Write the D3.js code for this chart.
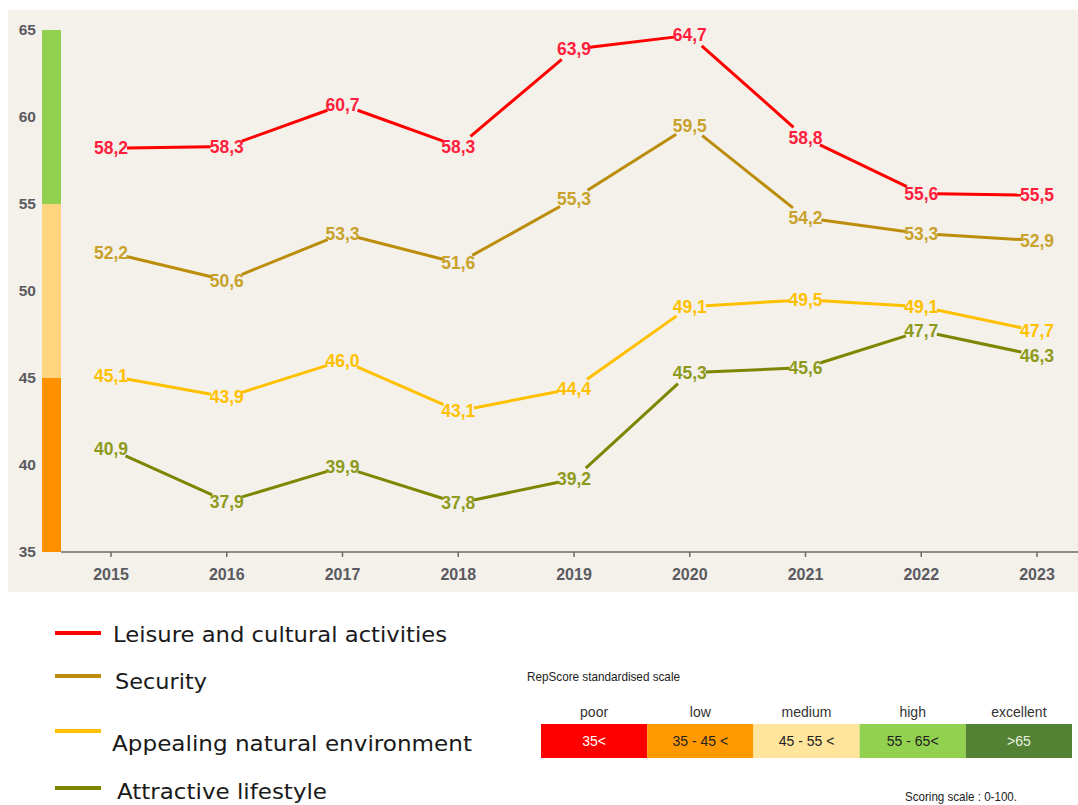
<!DOCTYPE html>
<html>
<head>
<meta charset="utf-8">
<script src="https://cdn.jsdelivr.net/npm/d3@7"></script>
<style>
  body { margin: 0; background: #ffffff; }
  svg { display: block; }
</style>
</head>
<body>
<svg id="chart"></svg>
<script>
// data
var years = ["2015", "2016", "2017", "2018", "2019", "2020", "2021", "2022", "2023"];
var seriesNames = ["Leisure and cultural activities", "Security", "Appealing natural environment", "Attractive lifestyle"];
var leisure = [58.2, 58.3, 60.7, 58.3, 63.9, 64.7, 58.8, 55.6, 55.5];
var security = [52.2, 50.6, 53.3, 51.6, 55.3, 59.5, 54.2, 53.3, 52.9];
var appealing = [45.1, 43.9, 46.0, 43.1, 44.4, 49.1, 49.5, 49.1, 47.7];
var lifestyle = [40.9, 37.9, 39.9, 37.8, 39.2, 45.3, 45.6, 47.7, 46.3];
var yTicks = [35, 40, 45, 50, 55, 60, 65];
var bands = [[35, 45], [45, 55], [55, 65]];
var scaleNames = ["poor", "low", "medium", "high", "excellent"];
var scaleRanges = ["35<", "35 - 45 <", "45 - 55 <", "55 - 65<", ">65"];

var lineColors = ["#ff0000", "#bb8d0b", "#ffc000", "#7c8600"];
var labelColors = ["#ff1f3d", "#c9a22c", "#ffc000", "#8e9a1c"];
var bandColors = ["#ff9000", "#ffd47f", "#92d050"];
var scaleColors = ["#ff0000", "#ff9900", "#ffe49c", "#92d050", "#548235"];
var scaleText = ["#ffffff", "#222222", "#222222", "#222222", "#e8f0e0"];

var width = 1078, height = 805;
var svg = d3.select("#chart").attr("width", width).attr("height", height);

// panel
svg.append("rect")
    .attr("x", 8).attr("y", 10)
    .attr("width", width - 8).attr("height", 582)
    .attr("fill", "#f4f1eb");

var x = d3.scalePoint().domain(years).range([111, 1037]);
var y = d3.scaleLinear().domain([35, 65]).range([552, 30]);

// y axis labels
svg.append("g").selectAll("text")
    .data(yTicks)
    .enter().append("text")
    .attr("x", 36)
    .attr("y", function (d) { return y(d); })
    .attr("dy", "0.35em")
    .attr("text-anchor", "end")
    .attr("font-family", "Liberation Sans, Arial, sans-serif")
    .attr("font-weight", "bold")
    .attr("font-size", 15.5)
    .attr("fill", "#5a5a60")
    .text(function (d) { return d; });

// coloured band on the left
svg.append("g").selectAll("rect")
    .data(bands)
    .enter().append("rect")
    .attr("x", 42)
    .attr("width", 19)
    .attr("y", function (d) { return y(d[1]); })
    .attr("height", function (d) { return y(d[0]) - y(d[1]); })
    .attr("fill", function (d, i) { return bandColors[i]; });

// x axis
var xAxis = svg.append("g")
    .attr("transform", "translate(0," + y(35) + ")");
xAxis.append("line")
    .attr("x1", 61).attr("x2", width)
    .attr("stroke", "#6b6b6b").attr("stroke-width", 1.5);
xAxis.selectAll(".tick")
    .data(years)
    .enter().append("line")
    .attr("x1", function (d) { return x(d); })
    .attr("x2", function (d) { return x(d); })
    .attr("y1", 0).attr("y2", 5)
    .attr("stroke", "#6b6b6b").attr("stroke-width", 1.5);
xAxis.selectAll("text")
    .data(years)
    .enter().append("text")
    .attr("x", function (d) { return x(d); })
    .attr("y", 22)
    .attr("dy", "0.35em")
    .attr("text-anchor", "middle")
    .attr("font-family", "Liberation Sans, Arial, sans-serif")
    .attr("font-weight", "bold")
    .attr("font-size", 16)
    .attr("fill", "#5a5a60")
    .text(function (d) { return d; });

// series: segments trimmed around the value labels
var allSeries = [leisure, security, appealing, lifestyle];
var trim = 16;
var fmt = function (v) { return v.toFixed(1).replace(".", ","); };

allSeries.forEach(function (vals, s) {
    var pts = vals.map(function (v, i) { return [x(years[i]), y(v)]; });
    var segs = d3.pairs(pts).map(function (p) {
        var dx = p[1][0] - p[0][0], dy = p[1][1] - p[0][1];
        var len = Math.sqrt(dx * dx + dy * dy);
        var ux = dx / len, uy = dy / len;
        return [p[0][0] + ux * trim, p[0][1] + uy * trim, p[1][0] - ux * trim, p[1][1] - uy * trim];
    });
    var g = svg.append("g");
    g.selectAll("line")
        .data(segs)
        .enter().append("line")
        .attr("x1", function (d) { return d[0]; })
        .attr("y1", function (d) { return d[1]; })
        .attr("x2", function (d) { return d[2]; })
        .attr("y2", function (d) { return d[3]; })
        .attr("stroke", lineColors[s])
        .attr("stroke-width", 3);
    g.selectAll("text")
        .data(vals)
        .enter().append("text")
        .attr("x", function (d, i) { return x(years[i]); })
        .attr("y", function (d) { return y(d); })
        .attr("dy", "0.35em")
        .attr("text-anchor", "middle")
        .attr("font-family", "Liberation Sans, Arial, sans-serif")
        .attr("font-weight", "bold")
        .attr("font-size", 17.5)
        .attr("fill", labelColors[s])
        .text(fmt);
});

// legend
var legendY = [633, 676, 731, 788];
var legendTextY = [635, 682, 744, 792];
var legendTextX = [113, 115, 112, 117];
var legendTextW = [334, 92, 360, 210];
var legend = svg.append("g");
legend.selectAll("line")
    .data(seriesNames)
    .enter().append("line")
    .attr("x1", 55).attr("x2", 101)
    .attr("y1", function (d, i) { return legendY[i]; })
    .attr("y2", function (d, i) { return legendY[i]; })
    .attr("stroke", function (d, i) { return lineColors[i]; })
    .attr("stroke-width", 4);
legend.selectAll("text")
    .data(seriesNames)
    .enter().append("text")
    .attr("x", function (d, i) { return legendTextX[i]; })
    .attr("y", function (d, i) { return legendTextY[i]; })
    .attr("dy", "0.35em")
    .attr("font-family", "DejaVu Sans, Verdana, sans-serif")
    .attr("font-size", 21)
    .attr("textLength", function (d, i) { return legendTextW[i]; })
    .attr("lengthAdjust", "spacingAndGlyphs")
    .attr("fill", "#1a1a1a")
    .text(function (d) { return d; });

// RepScore scale
var narrow = "Liberation Sans Narrow, Liberation Sans, Arial, sans-serif";
svg.append("text")
    .attr("x", 527).attr("y", 676)
    .attr("dy", "0.35em")
    .attr("font-family", narrow)
    .attr("font-size", 13)
    .attr("textLength", 153)
    .attr("lengthAdjust", "spacingAndGlyphs")
    .attr("fill", "#222")
    .text("RepScore standardised scale");

var sx = d3.scaleBand().domain(scaleNames).range([541, 1072]);
var scale = svg.append("g");
scale.selectAll("rect")
    .data(scaleNames)
    .enter().append("rect")
    .attr("x", function (d) { return sx(d); })
    .attr("y", 724)
    .attr("width", sx.bandwidth())
    .attr("height", 34)
    .attr("fill", function (d, i) { return scaleColors[i]; });
scale.selectAll(".name")
    .data(scaleNames)
    .enter().append("text")
    .attr("x", function (d) { return sx(d) + sx.bandwidth() / 2; })
    .attr("y", 712)
    .attr("dy", "0.35em")
    .attr("text-anchor", "middle")
    .attr("font-family", narrow)
    .attr("font-size", 14)
    .attr("fill", "#333")
    .text(function (d) { return d; });
scale.selectAll(".range")
    .data(scaleRanges)
    .enter().append("text")
    .attr("x", function (d, i) { return sx(scaleNames[i]) + sx.bandwidth() / 2; })
    .attr("y", 741)
    .attr("dy", "0.35em")
    .attr("text-anchor", "middle")
    .attr("font-family", narrow)
    .attr("font-size", 14)
    .attr("fill", function (d, i) { return scaleText[i]; })
    .text(function (d) { return d; });

svg.append("text")
    .attr("x", 905).attr("y", 796)
    .attr("dy", "0.35em")
    .attr("font-family", narrow)
    .attr("font-size", 13)
    .attr("textLength", 112)
    .attr("lengthAdjust", "spacingAndGlyphs")
    .attr("fill", "#222")
    .text("Scoring scale : 0-100.");
</script>
</body>
</html>
